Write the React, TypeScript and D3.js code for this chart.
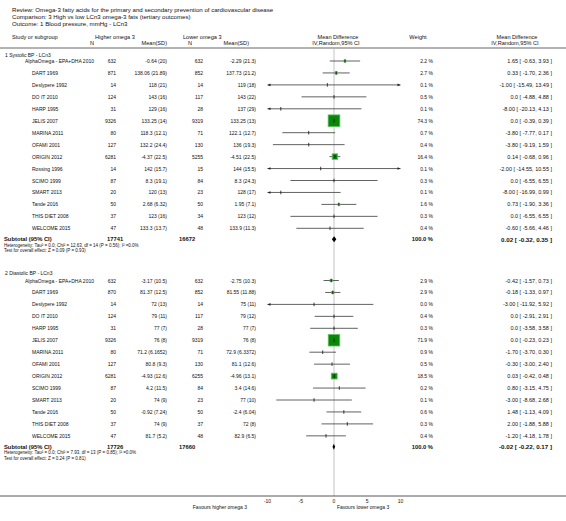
import React from 'react';
import * as d3 from 'd3';

const W = 566;
const H = 521;

const titleLines = [
  'Review:  Omega-3 fatty acids for the primary and secondary prevention of cardiovascular disease',
  'Comparison:  3 High vs low LCn3 omega-3 fats (tertiary outcomes)',
  'Outcome:  1 Blood pressure, mmHg - LCn3',
];

const sysTitle = '1 Systolic BP - LCn3';
const sysStudies = ['AlphaOmega - EPA+DHA 2010', 'DART 1969', 'Deslypere 1992', 'DO IT 2010', 'HARP 1995', 'JELIS 2007', 'MARINA 2011', 'OFAMI 2001', 'ORIGIN 2012', 'Rossing 1996', 'SCIMO 1999', 'SMART 2013', 'Tande 2016', 'THIS DIET 2008', 'WELCOME 2015'];
const sysHigherN = [632, 871, 14, 124, 31, 9326, 80, 127, 6281, 14, 87, 20, 50, 37, 47];
const sysHigherMeanSD = ['-0.64 (20)', '138.06 (21.89)', '118 (21)', '143 (16)', '129 (16)', '133.25 (14)', '118.3 (12.1)', '132.2 (24.4)', '-4.37 (22.5)', '142 (15.7)', '8.3 (19.1)', '120 (13)', '2.68 (6.32)', '123 (16)', '133.3 (13.7)'];
const sysLowerN = [632, 852, 14, 117, 28, 9319, 71, 130, 5255, 15, 84, 23, 50, 34, 48];
const sysLowerMeanSD = ['-2.29 (21.3)', '137.73 (21.2)', '119 (18)', '143 (22)', '137 (29)', '133.25 (13)', '122.1 (12.7)', '136 (19.3)', '-4.51 (22.5)', '144 (15.5)', '8.3 (24.3)', '128 (17)', '1.95 (7.1)', '123 (12)', '133.9 (11.3)'];
const sysWeight = [2.2, 2.7, 0.1, 0.5, 0.1, 74.3, 0.7, 0.4, 16.4, 0.1, 0.3, 0.1, 1.6, 0.3, 0.4];
const sysMD = [1.65, 0.33, -1.0, 0.0, -8.0, 0.0, -3.8, -3.8, 0.14, -2.0, 0.0, -8.0, 0.73, 0.0, -0.6];
const sysLo = [-0.63, -1.7, -15.49, -4.88, -20.13, -0.39, -7.77, -9.19, -0.68, -14.55, -6.55, -16.99, -1.9, -6.55, -5.66];
const sysHi = [3.93, 2.36, 13.49, 4.88, 4.13, 0.39, 0.17, 1.59, 0.96, 10.55, 6.55, 0.99, 3.36, 6.55, 4.46];
const sysTotal = { n1: 17741, n2: 16672, w: 100.0, md: 0.02, lo: -0.32, hi: 0.35 };
const sysHet = 'Heterogeneity: Tau\u00B2 = 0.0; Chi\u00B2 = 12.63, df = 14 (P = 0.56); I\u00B2 =0.0%';
const sysTest = 'Test for overall effect: Z = 0.09 (P = 0.93)';

const diaTitle = '2 Diastolic BP - LCn3';
const diaStudies = ['AlphaOmega - EPA+DHA 2010', 'DART 1969', 'Deslypere 1992', 'DO IT 2010', 'HARP 1995', 'JELIS 2007', 'MARINA 2011', 'OFAMI 2001', 'ORIGIN 2012', 'SCIMO 1999', 'SMART 2013', 'Tande 2016', 'THIS DIET 2008', 'WELCOME 2015'];
const diaHigherN = [632, 870, 14, 124, 31, 9326, 80, 127, 6281, 87, 20, 50, 37, 47];
const diaHigherMeanSD = ['-3.17 (10.5)', '81.37 (12.5)', '72 (13)', '79 (11)', '77 (7)', '76 (8)', '71.2 (6.1652)', '80.8 (9.3)', '-4.93 (12.6)', '4.2 (11.5)', '74 (9)', '-0.92 (7.24)', '74 (9)', '81.7 (5.2)'];
const diaLowerN = [632, 852, 14, 117, 28, 9319, 71, 130, 6255, 84, 23, 50, 37, 48];
const diaLowerMeanSD = ['-2.75 (10.3)', '81.55 (11.88)', '75 (11)', '79 (12)', '77 (7)', '76 (8)', '72.9 (6.3372)', '81.1 (12.6)', '-4.96 (13.1)', '3.4 (14.6)', '77 (10)', '-2.4 (6.04)', '72 (8)', '82.9 (6.5)'];
const diaWeight = [2.9, 2.9, 0.0, 0.4, 0.3, 71.9, 0.9, 0.5, 18.5, 0.2, 0.1, 0.6, 0.3, 0.4];
const diaMD = [-0.42, -0.18, -3.0, 0.0, 0.0, 0.0, -1.7, -0.3, 0.03, 0.8, -3.0, 1.48, 2.0, -1.2];
const diaLo = [-1.57, -1.33, -11.92, -2.91, -3.58, -0.23, -3.7, -3.0, -0.42, -3.15, -8.68, -1.13, -1.88, -4.18];
const diaHi = [0.73, 0.97, 5.92, 2.91, 3.58, 0.23, 0.3, 2.4, 0.48, 4.75, 2.68, 4.09, 5.88, 1.78];
const diaTotal = { n1: 17726, n2: 17660, w: 100.0, md: -0.02, lo: -0.22, hi: 0.17 };
const diaHet = 'Heterogeneity: Tau\u00B2 = 0.0; Chi\u00B2 = 7.93, df = 13 (P = 0.85); I\u00B2 =0.0%';
const diaTest = 'Test for overall effect: Z = 0.24 (P = 0.81)';

const axisTicks = [-10, -5, 0, 5, 10];
const favLeft = 'Favours higher omega 3';
const favRight = 'Favours lower omega 3';

const FONT = "'Liberation Sans', Arial, Helvetica, sans-serif";
const fmtMD = (v: number) => (v === 0 ? '0.0' : v.toFixed(2));
const fmtCI = (m: number, l: number, h: number) => `${fmtMD(m)} [ ${l.toFixed(2)}, ${h.toFixed(2)} ]`;

const x = d3.scaleLinear().domain([-10, 10]).range([267.5, 400.5]);
const boxSize = d3.scaleSqrt().domain([0, 100]).range([0, 13.6]);

const ROW = 11.95;

type Sec = {
  title: string; studies: string[]; n1: number[]; m1: string[]; n2: number[]; m2: string[];
  w: number[]; md: number[]; lo: number[]; hi: number[];
  total: { n1: number; n2: number; w: number; md: number; lo: number; hi: number };
  het: string; test: string; titleY: number; rowY: number;
};

const sections: Sec[] = [
  { title: sysTitle, studies: sysStudies, n1: sysHigherN, m1: sysHigherMeanSD, n2: sysLowerN, m2: sysLowerMeanSD, w: sysWeight, md: sysMD, lo: sysLo, hi: sysHi, total: sysTotal, het: sysHet, test: sysTest, titleY: 54.5, rowY: 61 },
  { title: diaTitle, studies: diaStudies, n1: diaHigherN, m1: diaHigherMeanSD, n2: diaLowerN, m2: diaLowerMeanSD, w: diaWeight, md: diaMD, lo: diaLo, hi: diaHi, total: diaTotal, het: diaHet, test: diaTest, titleY: 273, rowY: 280.5 },
];

const T = (props: any) => (
  <text fontFamily={FONT} fontSize={5} fill="#111" dominantBaseline="central" {...props} />
);

function Arrow({ xTip, y, dir }: { xTip: number; y: number; dir: number }) {
  const p = d3.path();
  p.moveTo(xTip, y);
  p.lineTo(xTip - dir * 3, y - 1.3);
  p.lineTo(xTip - dir * 3, y + 1.3);
  p.closePath();
  return <path d={p.toString()} fill="#222" />;
}

function Section({ s }: { s: Sec }) {
  const [d0, d1] = x.domain();
  const rows = s.studies.map((name, i) => {
    const y = s.rowY + i * ROW;
    const lo = Math.max(s.lo[i], d0);
    const hi = Math.min(s.hi[i], d1);
    const b = boxSize(s.w[i]);
    return (
      <g key={name}>
        <T x={i === 0 ? 25 : 32} y={y}>{name}</T>
        <T x={116} y={y} textAnchor="end">{s.n1[i]}</T>
        <T x={167} y={y} textAnchor="end">{s.m1[i]}</T>
        <T x={203} y={y} textAnchor="end">{s.n2[i]}</T>
        <T x={256} y={y} textAnchor="end">{s.m2[i]}</T>
        <T x={433} y={y} textAnchor="end">{`${s.w[i].toFixed(1)} %`}</T>
        <T x={552} y={y} textAnchor="end" fontSize={5.5}>{fmtCI(s.md[i], s.lo[i], s.hi[i])}</T>
        <line x1={x(lo)} x2={x(hi)} y1={y} y2={y} stroke="#3a3a3a" strokeWidth={0.8} />
        {s.lo[i] < d0 && <Arrow xTip={x(d0)} y={y} dir={-1} />}
        {s.hi[i] > d1 && <Arrow xTip={x(d1)} y={y} dir={1} />}
        {b > 1.5 && (
          <rect x={x(s.md[i]) - b / 2} y={y - b / 2} width={b} height={b} fill="#0a860a" stroke="#62c062" strokeWidth={0.8} />
        )}
        <line x1={x(s.md[i])} x2={x(s.md[i])} y1={y - 1.8} y2={y + 1.8} stroke="#111" strokeWidth={0.8} />
      </g>
    );
  });
  const ty = s.rowY + (s.studies.length - 1) * ROW + 11;
  const t = s.total;
  const dp = d3.path();
  dp.moveTo(x(t.lo), ty);
  dp.lineTo(x(t.md), ty - 3);
  dp.lineTo(x(t.hi), ty);
  dp.lineTo(x(t.md), ty + 3);
  dp.closePath();
  return (
    <g>
      <T x={5} y={s.titleY}>{s.title}</T>
      {rows}
      <T x={4} y={ty} fontWeight="bold" fontSize={5.8}>Subtotal (95% CI)</T>
      <T x={107} y={ty} fontWeight="bold" fontSize={5.8}>{t.n1}</T>
      <T x={179} y={ty} fontWeight="bold" fontSize={5.8}>{t.n2}</T>
      <T x={433} y={ty} fontWeight="bold" fontSize={5.8} textAnchor="end">{`${t.w.toFixed(1)} %`}</T>
      <T x={552} y={ty} fontWeight="bold" fontSize={6.2} textAnchor="end">{fmtCI(t.md, t.lo, t.hi)}</T>
      <path d={dp.toString()} fill="#000" />
      <T x={4} y={ty + 6} fontSize={4.5}>{s.het}</T>
      <T x={4} y={ty + 11.5} fontSize={4.5}>{s.test}</T>
    </g>
  );
}

export default function App() {
  const axisY = 496;
  return (
    <svg width={W} height={H} style={{ position: 'absolute', left: 0, top: 0, background: '#fff' }}>
      <rect width={W} height={H} fill="#fff" />
      {titleLines.map((l, i) => (
        <T key={i} x={12} y={9.5 + i * 7} fontSize={6.1}>{l}</T>
      ))}
      <T x={12} y={37} fontSize={5.6}>Study or subgroup</T>
      <T x={95} y={37} fontSize={5.6}>Higher omega 3</T>
      <T x={92} y={43} fontSize={5.6} textAnchor="middle">N</T>
      <T x={167} y={43} fontSize={5.6} textAnchor="end">Mean(SD)</T>
      <T x={183} y={37} fontSize={5.6}>Lower omega 3</T>
      <T x={190} y={43} fontSize={5.6} textAnchor="middle">N</T>
      <T x={249} y={43} fontSize={5.6} textAnchor="end">Mean(SD)</T>
      <T x={338} y={37} fontSize={5.6} textAnchor="middle">Mean Difference</T>
      <T x={336} y={43} fontSize={5.6} textAnchor="middle">IV,Random,95% CI</T>
      <T x={418} y={37} fontSize={5.6} textAnchor="middle">Weight</T>
      <T x={517} y={37} fontSize={5.6} textAnchor="middle">Mean Difference</T>
      <T x={515} y={43} fontSize={5.6} textAnchor="middle">IV,Random,95% CI</T>
      <line x1={0} x2={W} y1={48} y2={48} stroke="#555" strokeWidth={0.9} />
      <line x1={x(0)} x2={x(0)} y1={48.5} y2={axisY} stroke="#b5b5b5" strokeWidth={0.8} />
      {sections.map((s) => (
        <Section key={s.title} s={s} />
      ))}
      <line x1={0} x2={W} y1={axisY} y2={axisY} stroke="#444" strokeWidth={0.9} />
      {axisTicks.map((v) => (
        <T key={v} x={x(v)} y={axisY + 5} textAnchor="middle">{v}</T>
      ))}
      <T x={247} y={axisY + 11} textAnchor="end">{favLeft}</T>
      <T x={337} y={axisY + 11}>{favRight}</T>
    </svg>
  );
}
